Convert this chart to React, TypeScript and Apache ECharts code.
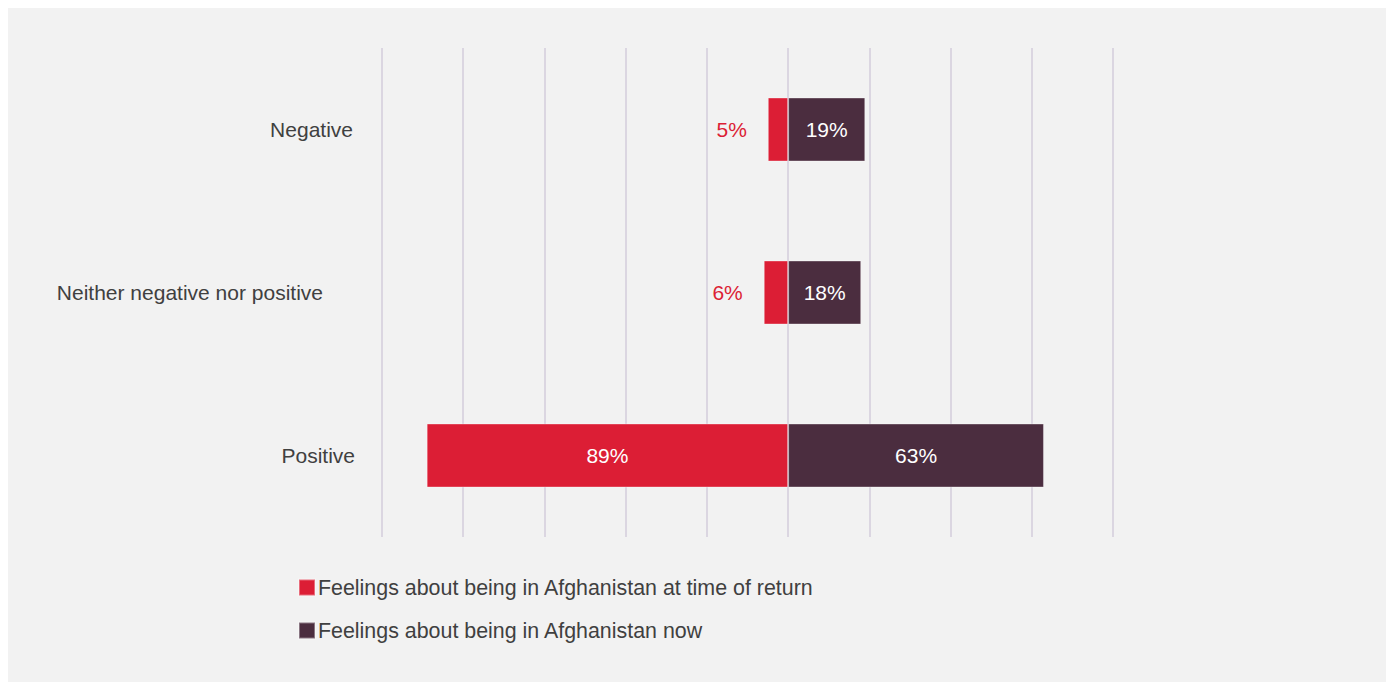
import React, { useEffect, useRef } from "react";
import * as echarts from "echarts";

const categories = ["Negative", "Neither negative nor positive", "Positive"];
const seriesNames = [
  "Feelings about being in Afghanistan at time of return",
  "Feelings about being in Afghanistan now",
];
const atReturn = [-5, -6, -89];
const now = [19, 18, 63];

const RED = "#dc1e35";
const DARK = "#4b2d3f";
const TEXT = "#404040";
const FONT = "'Liberation Sans', Arial, Helvetica, sans-serif";

export default function App() {
  const ref = useRef<HTMLDivElement>(null);
  useEffect(() => {
    if (!ref.current) return;
    const chart = echarts.init(ref.current, null, { renderer: "svg" });
    const labelPad: Record<string, number> = {
      Negative: 2,
      "Neither negative nor positive": 32,
      Positive: 0,
    };
    chart.setOption({
      animation: false,
      backgroundColor: "#f2f2f2",
      textStyle: { fontFamily: FONT },
      grid: { left: 374, right: 273, top: 40, bottom: 145, containLabel: false },
      legend: {
        orient: "vertical",
        left: 285,
        top: 564,
        itemWidth: 16,
        itemHeight: 16,
        itemGap: 22,
        icon: "rect",
        textStyle: { fontSize: 21.4, color: TEXT, fontFamily: FONT, padding: [0, 0, 0, -2] },
        data: seriesNames,
      },
      xAxis: {
        type: "value",
        min: -100,
        max: 80,
        interval: 20,
        axisLabel: { show: false },
        axisLine: { show: false },
        axisTick: { show: false },
        splitLine: { show: true, lineStyle: { color: "#dbd6e1", width: 2 } },
      },
      yAxis: {
        type: "category",
        inverse: true,
        data: categories,
        axisLine: { show: false },
        axisTick: { show: false },
        axisLabel: {
          margin: 27,
          fontSize: 21,
          color: TEXT,
          fontFamily: FONT,
          formatter: (v: string) => {
            const i = categories.indexOf(v);
            return `{c${i}|${v}}`;
          },
          rich: Object.fromEntries(
            categories.map((c, i) => [
              `c${i}`,
              {
                fontSize: 21,
                color: TEXT,
                fontFamily: FONT,
                padding: [0, labelPad[c] || 0, 0, 0],
              },
            ])
          ),
        },
      },
      series: [
        {
          name: seriesNames[0],
          type: "bar",
          barWidth: 64,
          barGap: "-100%",
          itemStyle: { color: RED, borderColor: "rgba(255,255,255,0.35)", borderWidth: 1 },
          data: atReturn.map((v) => ({
            value: v,
            label:
              Math.abs(v) < 15
                ? { show: true, position: "left", distance: 21, color: RED }
                : { show: true, position: "inside", color: "#ffffff" },
          })),
          label: {
            show: true,
            fontSize: 21,
            fontFamily: FONT,
            formatter: (p: any) => `${Math.abs(p.value)}%`,
          },
        },
        {
          name: seriesNames[1],
          type: "bar",
          barWidth: 64,
          itemStyle: { color: DARK, borderColor: "rgba(255,255,255,0.35)", borderWidth: 1 },
          data: now,
          label: {
            show: true,
            position: "inside",
            color: "#ffffff",
            fontSize: 21,
            fontFamily: FONT,
            formatter: (p: any) => `${Math.abs(p.value)}%`,
          },
        },
      ],
    });
    return () => chart.dispose();
  }, []);
  return <div ref={ref} style={{ width: 1378, height: 674 }} />;
}
